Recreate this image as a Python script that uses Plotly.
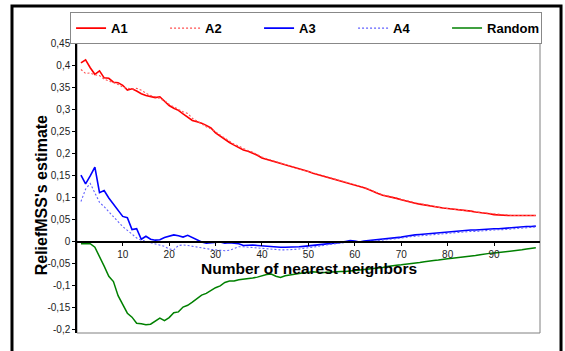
import plotly.graph_objects as go

# Number of nearest neighbours k = 1..99
neighbors = list(range(1, 100))

a1 = [0.407, 0.414, 0.396, 0.381, 0.389, 0.373, 0.372, 0.363, 0.362, 0.356,
      0.345, 0.348, 0.343, 0.337, 0.333, 0.330, 0.328, 0.330, 0.319, 0.310,
      0.304, 0.299, 0.291, 0.283, 0.276, 0.273, 0.270, 0.265, 0.259, 0.248,
      0.240, 0.233, 0.226, 0.220, 0.215, 0.209, 0.206, 0.202, 0.197, 0.191,
      0.188, 0.185, 0.182, 0.178, 0.176, 0.173, 0.170, 0.166, 0.163, 0.160,
      0.156, 0.153, 0.150, 0.148, 0.145, 0.142, 0.139, 0.136, 0.133, 0.130,
      0.127, 0.123, 0.119, 0.114, 0.110, 0.106, 0.104, 0.102, 0.099, 0.096,
      0.093, 0.091, 0.088, 0.086, 0.084, 0.082, 0.080, 0.078, 0.077, 0.076,
      0.075, 0.074, 0.073, 0.071, 0.070, 0.068, 0.067, 0.065, 0.064, 0.062,
      0.061, 0.061, 0.060, 0.060, 0.060, 0.060, 0.060, 0.060, 0.060]

a2 = [0.392, 0.383, 0.384, 0.380, 0.378, 0.370, 0.366, 0.362, 0.358, 0.352,
      0.350, 0.347, 0.349, 0.345, 0.338, 0.333, 0.330, 0.325, 0.321, 0.313,
      0.306, 0.301, 0.296, 0.292, 0.281, 0.274, 0.268, 0.262, 0.257, 0.250,
      0.243, 0.236, 0.229, 0.222, 0.218, 0.212, 0.207, 0.204, 0.198, 0.193,
      0.189, 0.186, 0.183, 0.180, 0.176, 0.172, 0.169, 0.167, 0.164, 0.160,
      0.157, 0.154, 0.151, 0.149, 0.146, 0.143, 0.140, 0.137, 0.133, 0.131,
      0.128, 0.124, 0.120, 0.115, 0.111, 0.107, 0.105, 0.102, 0.100, 0.097,
      0.094, 0.091, 0.089, 0.087, 0.085, 0.083, 0.080, 0.079, 0.077, 0.076,
      0.075, 0.074, 0.072, 0.071, 0.070, 0.068, 0.067, 0.066, 0.064, 0.063,
      0.062, 0.061, 0.061, 0.060, 0.060, 0.060, 0.060, 0.060, 0.060]

a3 = [0.152, 0.132, 0.150, 0.170, 0.112, 0.117, 0.100, 0.085, 0.072, 0.058,
      0.055, 0.028, 0.030, 0.006, 0.013, 0.006, 0.004, 0.005, 0.010, 0.013,
      0.016, 0.014, 0.011, 0.015, 0.010, 0.005, 0.000, -0.003, -0.002, -0.002,
      0.000, -0.003, -0.002, -0.003, -0.004, -0.008, -0.007, -0.007, -0.008, -0.009,
      -0.009, -0.010, -0.011, -0.012, -0.012, -0.012, -0.011, -0.011, -0.010, -0.009,
      -0.008, -0.007, -0.006, -0.005, -0.004, -0.003, -0.001, 0.001, 0.003, 0.002,
      0.000, 0.002, 0.003, 0.004, 0.006, 0.007, 0.008, 0.009, 0.010, 0.011,
      0.013, 0.015, 0.016, 0.017, 0.018, 0.019, 0.020, 0.021, 0.022, 0.023,
      0.0235, 0.024, 0.025, 0.026, 0.027, 0.027, 0.028, 0.028, 0.029, 0.030,
      0.030, 0.031, 0.032, 0.032, 0.033, 0.034, 0.035, 0.035, 0.036]

a4 = [0.092, 0.120, 0.133, 0.112, 0.090, 0.080, 0.068, 0.057, 0.046, 0.035,
      0.027, 0.018, 0.009, 0.004, 0.001, -0.002, -0.005, -0.007, -0.010, -0.016,
      -0.018, -0.008, -0.007, -0.008, -0.010, -0.011, -0.013, -0.015, -0.017, -0.018,
      -0.019, -0.020, -0.019, -0.015, -0.011, -0.011, -0.012, -0.013, -0.013, -0.014,
      -0.015, -0.016, -0.017, -0.018, -0.018, -0.018, -0.017, -0.016, -0.015, -0.014,
      -0.012, -0.010, -0.008, -0.007, -0.005, -0.004, -0.002, -0.001, 0.000, 0.000,
      0.000, 0.000, 0.001, 0.002, 0.003, 0.005, 0.006, 0.007, 0.008, 0.009,
      0.010, 0.012, 0.013, 0.014, 0.015, 0.016, 0.017, 0.018, 0.019, 0.020,
      0.021, 0.021, 0.022, 0.023, 0.024, 0.024, 0.025, 0.026, 0.026, 0.027,
      0.028, 0.028, 0.029, 0.030, 0.031, 0.032, 0.032, 0.033, 0.034]

random_attr = [-0.004, -0.004, -0.004, -0.012, -0.032, -0.055, -0.078, -0.090, -0.122, -0.143,
               -0.162, -0.171, -0.185, -0.186, -0.188, -0.187, -0.180, -0.173, -0.179, -0.172,
               -0.161, -0.159, -0.148, -0.144, -0.137, -0.128, -0.121, -0.117, -0.110, -0.104,
               -0.100, -0.092, -0.089, -0.089, -0.086, -0.085, -0.084, -0.082, -0.080, -0.077,
               -0.074, -0.073, -0.078, -0.081, -0.077, -0.075, -0.073, -0.071, -0.070, -0.069,
               -0.068, -0.069, -0.070, -0.069, -0.068, -0.068, -0.067, -0.067, -0.066, -0.065,
               -0.064, -0.063, -0.062, -0.061, -0.059, -0.058, -0.056, -0.054, -0.053, -0.052,
               -0.051, -0.049, -0.048, -0.047, -0.045, -0.043, -0.042, -0.041, -0.039, -0.038,
               -0.037, -0.036, -0.034, -0.033, -0.032, -0.031, -0.029, -0.027, -0.026, -0.025,
               -0.024, -0.022, -0.021, -0.020, -0.019, -0.018, -0.016, -0.014, -0.013]

x_ticks = [10, 20, 30, 40, 50, 60, 70, 80, 90]
y_ticks = [0.45, 0.4, 0.35, 0.3, 0.25, 0.2, 0.15, 0.1, 0.05, 0,
           -0.05, -0.1, -0.15, -0.2]
y_tick_labels = ["0,45", "0,4", "0,35", "0,3", "0,25", "0,2", "0,15", "0,1",
                 "0,05", "0", "-0,05", "-0,1", "-0,15", "-0,2"]

X_RANGE = [0.15, 99.9]
Y_RANGE = [-0.207, 0.459]
FONT = "Liberation Sans, Arial, sans-serif"

series = [
    ("A1", a1, dict(color="#ff0000", width=1.6)),
    ("A2", a2, dict(color="#ff5050", width=1.1, dash="2px,2px")),
    ("A3", a3, dict(color="#0000ff", width=1.6)),
    ("A4", a4, dict(color="#6060ff", width=1.1, dash="2px,2px")),
    ("Random", random_attr, dict(color="#008000", width=1.5)),
]

fig = go.Figure()
for name, values, line in series:
    fig.add_trace(go.Scatter(x=neighbors, y=values, name=name, mode="lines",
                             line=line))

# x axis sits on the zero line
zero_pos = (0 - Y_RANGE[0]) / (Y_RANGE[1] - Y_RANGE[0])

fig.update_layout(
    width=565, height=351,
    margin=dict(l=77, r=25, t=40, b=18),
    paper_bgcolor="white", plot_bgcolor="white",
    font=dict(family=FONT, color="black"),
    showlegend=True,
    legend=dict(
        orientation="h", x=-0.015, xanchor="left", y=1.095, yanchor="top",
        bordercolor="#888888", borderwidth=1, bgcolor="white",
        font=dict(family=FONT, size=13, color="black", weight="bold"),
        entrywidth=49, entrywidthmode="pixels",
        tracegroupgap=0,
    ),
    xaxis=dict(
        range=X_RANGE, anchor="free", position=zero_pos,
        showgrid=False, zeroline=False,
        showline=True, linecolor="black", linewidth=1.5,
        tickvals=x_ticks, ticks="outside", ticklen=3, tickcolor="black",
        tickfont=dict(size=10, color="#222222"),
    ),
    yaxis=dict(
        range=Y_RANGE, showgrid=False, zeroline=False,
        showline=True, linecolor="black", linewidth=1.5,
        tickvals=y_ticks, ticktext=y_tick_labels,
        ticks="outside", ticklen=3, tickcolor="black",
        tickfont=dict(size=10, color="#222222"),
    ),
    shapes=[
        # plot frame
        dict(type="rect", xref="paper", yref="paper", x0=0, x1=1, y0=0, y1=1,
             line=dict(color="#808080", width=1), layer="below"),
        # outer frame
        dict(type="rect", xref="paper", yref="paper",
             x0=-0.1404, x1=1.0454, y0=-0.1, y1=1.116,
             line=dict(color="black", width=3)),
    ],
    annotations=[
        dict(text="Number of nearest neighbors", xref="paper", yref="paper",
             x=0.5, y=(333 - 268) / 293, xanchor="center", yanchor="middle",
             showarrow=False, font=dict(family=FONT, size=15.5, weight="bold")),
        dict(text="ReliefMSS's estimate", xref="paper", yref="paper",
             x=(41 - 77) / 463, y=0.47, xanchor="center", yanchor="middle",
             textangle=-90, showarrow=False,
             font=dict(family=FONT, size=16, weight="bold")),
    ],
)

fig.write_html("out.html")
